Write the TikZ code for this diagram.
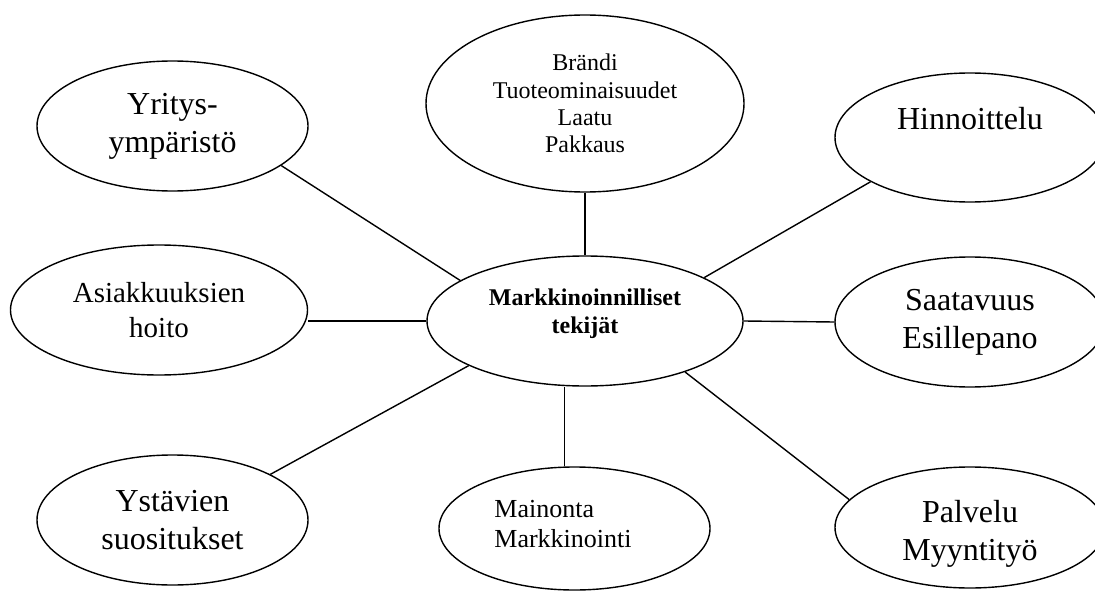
\documentclass[tikz,border=0pt]{standalone}
\usepackage{fontspec}
\setmainfont{Liberation Serif}
\usepackage{tikz}
\usetikzlibrary{shapes.geometric}

\begin{document}
\begin{tikzpicture}[x=1pt, y=-1pt,
  oval/.style={draw, ellipse, line width=1.4pt, inner sep=0pt},
  big/.style={font=\fontsize{32}{38}\selectfont, align=center},
  small/.style={font=\fontsize{24}{27.3}\selectfont, align=center},
  link/.style={line width=1.4pt}
]
  \clip (0,0) rectangle (1095,591);

  % middle
  \node[oval, minimum width=316pt, minimum height=130pt,
        label={[font=\fontsize{24}{28}\selectfont\bfseries, align=center, yshift=7.5pt]center:Markkinoinnilliset\\tekijät}]
        (keski) at (585,321) {};

  % left column
  \node[oval, minimum width=271pt, minimum height=130pt,
        label={[big]center:Yritys-\\ympäristö}] (yritys) at (172.5,126) {};
  \node[oval, minimum width=297pt, minimum height=130pt,
        label={[big, font=\fontsize{29}{35}\selectfont]center:Asiakkuuksien\\hoito}] (asiak) at (159,310) {};
  \node[oval, minimum width=271pt, minimum height=130pt,
        label={[big]center:Ystävien\\suositukset}] (ystavat) at (172.5,520) {};

  % top and bottom
  \node[oval, minimum width=318pt, minimum height=177pt,
        label={[small]center:Brändi\\Tuoteominaisuudet\\Laatu\\Pakkaus}] (brandi) at (585,103.5) {};
  \node[oval, minimum width=271pt, minimum height=123pt,
        label={[font=\fontsize{26}{30}\selectfont, align=left, xshift=-11.5pt, yshift=4.5pt]center:Mainonta\\Markkinointi}]
        (mainos) at (574.5,528.5) {};

  % right column
  \node[oval, minimum width=270pt, minimum height=129pt,
        label={[big, yshift=18.5pt]center:Hinnoittelu}] (hinta) at (970,137.5) {};
  \node[oval, minimum width=270pt, minimum height=130pt,
        label={[big]center:Saatavuus\\Esillepano}] (saat) at (970,322) {};
  \node[oval, minimum width=270pt, minimum height=121pt,
        label={[big, yshift=-6pt]center:Palvelu\\Myyntityö}] (palvelu) at (970,527.5) {};

  % spokes
  \draw[link] (yritys.-20) -- (keski.162);
  \draw[link] (brandi.south) -- (keski.north);
  \draw[link] (hinta.204) -- (keski.20);
  \draw[link] (keski.west) -- (keski.west -| asiak.east);
  \draw[link] (keski.east) -- (saat.west);
  \draw[link] (ystavat.25) -- (keski.201);
  \draw[link] (mainos.99) -- (mainos.99 |- keski.south);
  \draw[link] (palvelu.167) -- (keski.-27);
\end{tikzpicture}
\end{document}
